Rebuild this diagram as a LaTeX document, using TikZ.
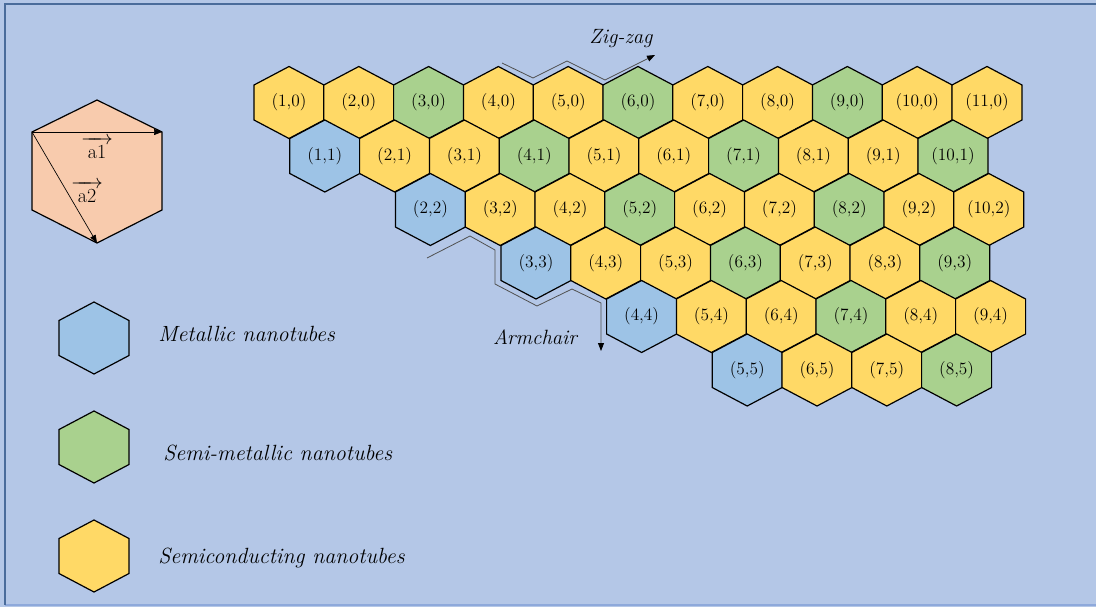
\RequirePackage{fix-cm}
\documentclass[tikz,border=0pt]{standalone}
\usepackage{amsmath}
\usetikzlibrary{arrows.meta, positioning}

\definecolor{sheetbg}{HTML}{B4C7E7}
\definecolor{sheetframe}{HTML}{4A6C9B}
\definecolor{sheetedge}{HTML}{8EA9DB}
\definecolor{metal}{HTML}{9DC3E6}
\definecolor{semimetal}{HTML}{A9D18E}
\definecolor{semicond}{HTML}{FFD966}
\definecolor{unitcell}{HTML}{F8CBAD}
\definecolor{trail}{HTML}{505050}

% hexagon (pointy top) around a centre
\newcommand{\hexat}[3]{%
  \filldraw[cell, fill=#3] (#1,#2-36) -- ++(35,18.5) -- ++(0,35)
    -- ++(-35,18.5) -- ++(-35,-18.5) -- ++(0,-35) -- cycle;}
% one row of (n,m) cells
\newcommand{\hexrow}[2]{%
  \foreach \n/\c in {#2}{%
    \pgfmathsetmacro\cx{289+69.8*(\n-1)+35.8*#1}
    \pgfmathsetmacro\cy{102.5+53.5*#1}
    \hexat{\cx}{\cy}{\c}
    \node[idx] (c\n-#1) at (\cx,\cy) {(\n,#1)};
  }}

\begin{document}
\begin{tikzpicture}[x=0.75pt, y=-0.75pt,
      cell/.style={draw=black, line width=0.9pt, line join=miter},
      idx/.style={font=\fontsize{13}{15}\selectfont, inner sep=0pt},
      key/.style={font=\fontsize{16.5}{19}\selectfont\itshape, anchor=west,
        inner sep=0pt},
      dirlab/.style={font=\fontsize{15.5}{18}\selectfont\itshape, inner sep=0pt},
      veclab/.style={font=\fontsize{15}{18}\selectfont, inner sep=0pt,
        align=center},
      vec/.style={draw=black, line width=0.5pt,
        -{Triangle[length=6pt, width=4.5pt]}},
      chiral/.style={draw=trail, line width=0.6pt,
        -{Triangle[length=6pt, width=4.5pt, color=black]}}
    ]
      % sheet
      \useasboundingbox (0,0) rectangle (1096,607);
      \fill[sheetbg] (0,0) rectangle (1096,607);
      \draw[sheetedge, line width=1.4pt] (5,605) -- (1110,605);
      \draw[sheetframe, line width=1.4pt] (1110,4) -- (5,4) -- (5,605);

      % unit cell
      \coordinate (ut) at (97,100);
      \coordinate (ur) at (162,132);
      \coordinate (urb) at (162,210);
      \coordinate (ub) at (97,243);
      \coordinate (ulb) at (32,210);
      \coordinate (ul) at (32,132);
      \filldraw[cell, fill=unitcell] (ut) -- (ur) -- (urb) -- (ub) -- (ulb)
        -- (ul) -- cycle;
      \draw[vec] (ul) -- (ur);
      \draw[vec] (ul) -- (ub);
      \node[veclab] (a1) at (97,148) {$\overrightarrow{\hspace{24pt}}$\\[-7pt]a1};
      \node[veclab] (a2) at (87,192) {$\overrightarrow{\hspace{24pt}}$\\[-7pt]a2};

      % (n,m) cells
      \hexrow{0}{1/semicond,2/semicond,3/semimetal,4/semicond,5/semicond,
        6/semimetal,7/semicond,8/semicond,9/semimetal,10/semicond,11/semicond}
      \hexrow{1}{1/metal,2/semicond,3/semicond,4/semimetal,5/semicond,
        6/semicond,7/semimetal,8/semicond,9/semicond,10/semimetal}
      \hexrow{2}{2/metal,3/semicond,4/semicond,5/semimetal,6/semicond,
        7/semicond,8/semimetal,9/semicond,10/semicond}
      \hexrow{3}{3/metal,4/semicond,5/semicond,6/semimetal,7/semicond,
        8/semicond,9/semimetal}
      \hexrow{4}{4/metal,5/semicond,6/semicond,7/semimetal,8/semicond,
        9/semicond}
      \hexrow{5}{5/metal,6/semicond,7/semicond,8/semimetal}

      % zig-zag direction
      \coordinate (z1) at (502,63);
      \coordinate (z2) at (533,78);
      \coordinate (z3) at (567,61);
      \coordinate (z4) at (605,80);
      \coordinate (z5) at (655,55);
      \draw[chiral] (z1) -- (z2) -- (z3) -- (z4) -- (z5);
      \node[dirlab] (zz) at (621,39) {Zig-zag};

      % armchair direction
      \coordinate (ac1) at (427,258);
      \coordinate (ac2) at (470,236);
      \coordinate (ac3) at (495,250);
      \coordinate (ac4) at (495,284);
      \coordinate (ac5) at (537,306);
      \coordinate (ac6) at (572,289);
      \coordinate (ac7) at (601,303);
      \coordinate (ac8) at (601,351);
      \draw[chiral] (ac1) -- (ac2) -- (ac3) -- (ac4) -- (ac5) -- (ac6)
        -- (ac7) -- (ac8);
      \node[dirlab] (arm) at (535,337) {Armchair};

      % legend
      \hexat{94}{338}{metal}
      \hexat{94}{447}{semimetal}
      \hexat{94}{556}{semicond}
      \node[key] (k1) at (158,334) {Metallic nanotubes};
      \node[key] (k2) at (163,453) {Semi-metallic nanotubes};
      \node[key] (k3) at (158,558) {Semiconducting nanotubes};
    \end{tikzpicture}
\end{document}
